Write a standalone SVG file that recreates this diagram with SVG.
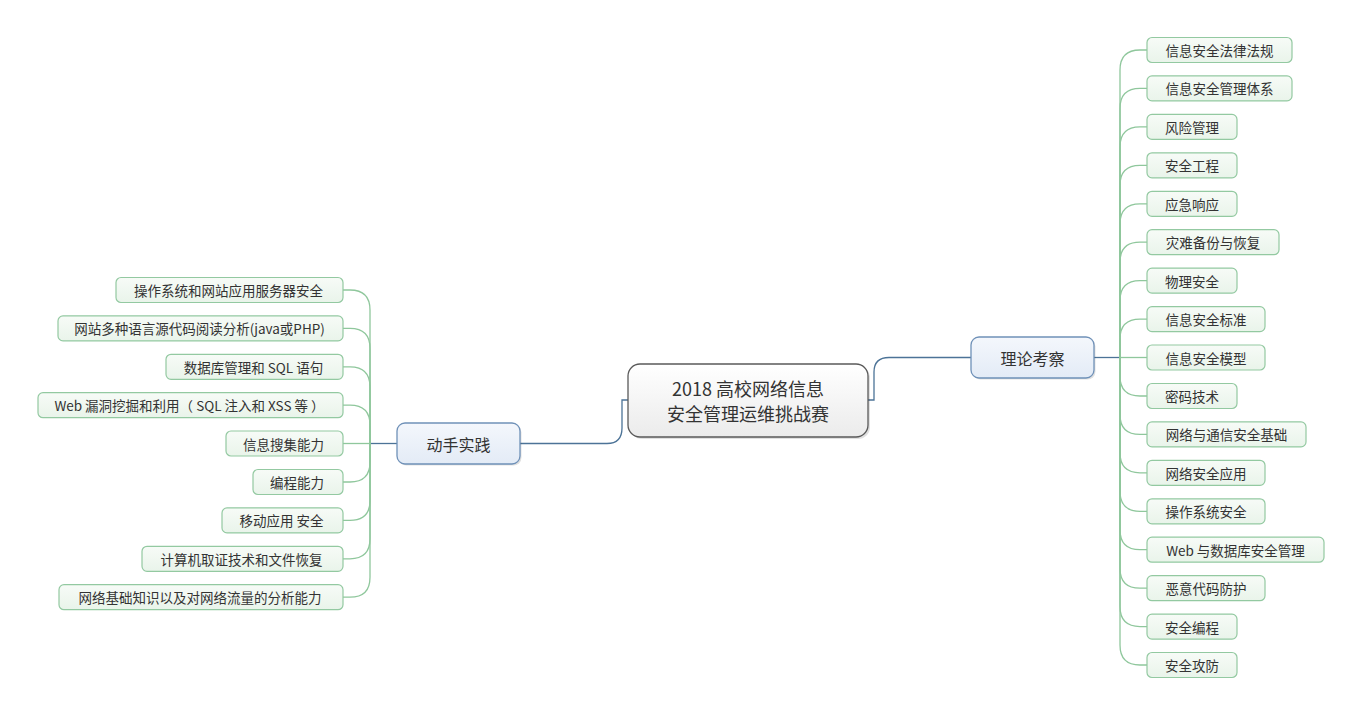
<svg xmlns="http://www.w3.org/2000/svg" width="1363" height="716" viewBox="0 0 1363 716">
<defs>
<linearGradient id="gMain" x1="0" y1="0" x2="0" y2="1"><stop offset="0" stop-color="#ffffff"/><stop offset="1" stop-color="#ebebeb"/></linearGradient>
<linearGradient id="gBlue" x1="0" y1="0" x2="0" y2="1"><stop offset="0" stop-color="#f4f7fc"/><stop offset="1" stop-color="#e3ebf6"/></linearGradient>
<linearGradient id="gLeaf" x1="0" y1="0" x2="0" y2="1"><stop offset="0" stop-color="#f7fbf7"/><stop offset="1" stop-color="#e9f4ea"/></linearGradient>
</defs>
<style>
text{font-family:"Noto Sans CJK SC","Liberation Sans",sans-serif;fill:#333333;dominant-baseline:central;text-anchor:middle}
.leaf rect{fill:url(#gLeaf);stroke:#93c9a1;stroke-width:1.2}
.leaf text{font-size:13.5px}
.blue rect.b{fill:url(#gBlue);stroke:#6f91b8;stroke-width:1.3}
.blue text{font-size:16px}
.shadow{fill:#000;opacity:0.12}
.cg{fill:none;stroke:#8fc79c;stroke-width:1.3}
.cb{fill:none;stroke:#4c7397;stroke-width:1.3}
</style>
<rect width="1363" height="716" fill="#ffffff"/>
<g id="connectors">
<path class="cb" d="M868 400 H874 V372 Q874 357.5 889 357.5 H971"/>
<path class="cb" d="M628 400 H622 V428 Q622 443.5 607 443.5 H520"/>
<path class="cb" d="M1094 357.5 H1120"/>
<path class="cb" d="M397 443.5 H370"/>
<g class="cg">
<path d="M1120 357.5 V70 Q1120 50 1140 50 H1147"/>
<path d="M1120 357.5 V108.4 Q1120 88.4 1140 88.4 H1147"/>
<path d="M1120 357.5 V146.9 Q1120 126.9 1140 126.9 H1147"/>
<path d="M1120 357.5 V185.3 Q1120 165.3 1140 165.3 H1147"/>
<path d="M1120 357.5 V223.8 Q1120 203.8 1140 203.8 H1147"/>
<path d="M1120 357.5 V262.2 Q1120 242.2 1140 242.2 H1147"/>
<path d="M1120 357.5 V300.6 Q1120 280.6 1140 280.6 H1147"/>
<path d="M1120 357.5 V339.1 Q1120 319.1 1140 319.1 H1147"/>
<path d="M1120 357.5 H1147"/>
<path d="M1120 357.5 V376 Q1120 396 1140 396 H1147"/>
<path d="M1120 357.5 V414.4 Q1120 434.4 1140 434.4 H1147"/>
<path d="M1120 357.5 V452.8 Q1120 472.8 1140 472.8 H1147"/>
<path d="M1120 357.5 V491.3 Q1120 511.3 1140 511.3 H1147"/>
<path d="M1120 357.5 V529.7 Q1120 549.7 1140 549.7 H1147"/>
<path d="M1120 357.5 V568.2 Q1120 588.2 1140 588.2 H1147"/>
<path d="M1120 357.5 V606.6 Q1120 626.6 1140 626.6 H1147"/>
<path d="M1120 357.5 V645 Q1120 665 1140 665 H1147"/>
<path d="M370 443.5 V310 Q370 290 350 290 H343"/>
<path d="M370 443.5 V348.4 Q370 328.4 350 328.4 H343"/>
<path d="M370 443.5 V386.8 Q370 366.8 350 366.8 H343"/>
<path d="M370 443.5 V425.2 Q370 405.2 350 405.2 H343"/>
<path d="M370 443.5 H343"/>
<path d="M370 443.5 V462 Q370 482 350 482 H343"/>
<path d="M370 443.5 V500.4 Q370 520.4 350 520.4 H343"/>
<path d="M370 443.5 V538.8 Q370 558.8 350 558.8 H343"/>
<path d="M370 443.5 V577.2 Q370 597.2 350 597.2 H343"/>
</g>
</g>
<g id="root">
<rect class="shadow" x="630" y="366" width="240" height="73" rx="12"/>
<rect x="628" y="364" width="240" height="73" rx="12" fill="url(#gMain)" stroke="#5a5a5a" stroke-width="1.3"/>
<text x="748" y="388" font-size="18">2018 高校网络信息</text>
<text x="748" y="413" font-size="18">安全管理运维挑战赛</text>
</g>
<g id="theory" class="blue">
<rect class="shadow" x="972.5" y="338.5" width="123" height="41" rx="8"/>
<rect class="b" x="971" y="337" width="123" height="41" rx="8"/>
<text x="1032.5" y="357.5">理论考察</text>
</g>
<g id="practice" class="blue">
<rect class="shadow" x="398.5" y="424.5" width="123" height="41" rx="8"/>
<rect class="b" x="397" y="423" width="123" height="41" rx="8"/>
<text x="458.5" y="443.5">动手实践</text>
</g>
<g id="r1" class="leaf"><rect x="1147" y="37.5" width="145" height="25" rx="5"/><text x="1219.5" y="50">信息安全法律法规</text></g>
<g id="r2" class="leaf"><rect x="1147" y="75.9" width="145" height="25" rx="5"/><text x="1219.5" y="88.4">信息安全管理体系</text></g>
<g id="r3" class="leaf"><rect x="1147" y="114.4" width="90" height="25" rx="5"/><text x="1192" y="126.9">风险管理</text></g>
<g id="r4" class="leaf"><rect x="1147" y="152.8" width="90" height="25" rx="5"/><text x="1192" y="165.3">安全工程</text></g>
<g id="r5" class="leaf"><rect x="1147" y="191.3" width="90" height="25" rx="5"/><text x="1192" y="203.8">应急响应</text></g>
<g id="r6" class="leaf"><rect x="1147" y="229.7" width="132" height="25" rx="5"/><text x="1213" y="242.2">灾难备份与恢复</text></g>
<g id="r7" class="leaf"><rect x="1147" y="268.1" width="90" height="25" rx="5"/><text x="1192" y="280.6">物理安全</text></g>
<g id="r8" class="leaf"><rect x="1147" y="306.6" width="118" height="25" rx="5"/><text x="1206" y="319.1">信息安全标准</text></g>
<g id="r9" class="leaf"><rect x="1147" y="345" width="118" height="25" rx="5"/><text x="1206" y="357.5">信息安全模型</text></g>
<g id="r10" class="leaf"><rect x="1147" y="383.5" width="90" height="25" rx="5"/><text x="1192" y="396">密码技术</text></g>
<g id="r11" class="leaf"><rect x="1147" y="421.9" width="159" height="25" rx="5"/><text x="1226.5" y="434.4">网络与通信安全基础</text></g>
<g id="r12" class="leaf"><rect x="1147" y="460.3" width="118" height="25" rx="5"/><text x="1206" y="472.8">网络安全应用</text></g>
<g id="r13" class="leaf"><rect x="1147" y="498.8" width="118" height="25" rx="5"/><text x="1206" y="511.3">操作系统安全</text></g>
<g id="r14" class="leaf"><rect x="1147" y="537.2" width="177" height="25" rx="5"/><text x="1235.5" y="549.7">Web 与数据库安全管理</text></g>
<g id="r15" class="leaf"><rect x="1147" y="575.7" width="118" height="25" rx="5"/><text x="1206" y="588.2">恶意代码防护</text></g>
<g id="r16" class="leaf"><rect x="1147" y="614.1" width="90" height="25" rx="5"/><text x="1192" y="626.6">安全编程</text></g>
<g id="r17" class="leaf"><rect x="1147" y="652.5" width="90" height="25" rx="5"/><text x="1192" y="665">安全攻防</text></g>
<g id="l1" class="leaf"><rect x="116" y="277.5" width="227" height="25" rx="5"/><text x="228.5" y="290">操作系统和网站应用服务器安全</text></g>
<g id="l2" class="leaf"><rect x="58" y="315.9" width="285" height="25" rx="5"/><text x="199.5" y="328.4">网站多种语言源代码阅读分析(java或PHP)</text></g>
<g id="l3" class="leaf"><rect x="166" y="354.3" width="177" height="25" rx="5"/><text x="253.5" y="366.8">数据库管理和 SQL 语句</text></g>
<g id="l4" class="leaf"><rect x="38" y="392.7" width="305" height="25" rx="5"/><text x="189.5" y="405.2">Web 漏洞挖掘和利用（ SQL 注入和 XSS 等 ）</text></g>
<g id="l5" class="leaf"><rect x="226" y="431" width="117" height="25" rx="5"/><text x="283.5" y="443.5">信息搜集能力</text></g>
<g id="l6" class="leaf"><rect x="253" y="469.5" width="90" height="25" rx="5"/><text x="297" y="482">编程能力</text></g>
<g id="l7" class="leaf"><rect x="222" y="507.9" width="121" height="25" rx="5"/><text x="281.5" y="520.4">移动应用 安全</text></g>
<g id="l8" class="leaf"><rect x="142" y="546.3" width="201" height="25" rx="5"/><text x="241.5" y="558.8">计算机取证技术和文件恢复</text></g>
<g id="l9" class="leaf"><rect x="59" y="584.7" width="284" height="25" rx="5"/><text x="200" y="597.2">网络基础知识以及对网络流量的分析能力</text></g>
</svg>
